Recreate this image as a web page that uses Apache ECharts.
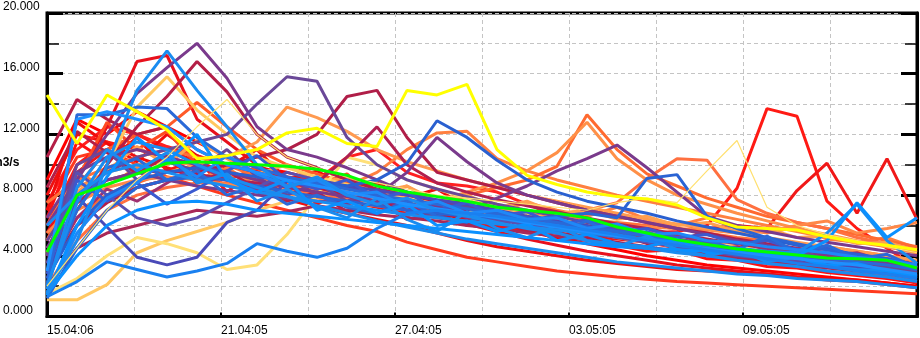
<!DOCTYPE html>
<html>
<head>
<meta charset="utf-8">
<script src="https://cdn.jsdelivr.net/npm/echarts@6/dist/echarts.min.js"></script>
<style>
  html, body { margin: 0; padding: 0; background: #fff; }
  #chart { width: 920px; height: 338px; }
</style>
</head>
<body>
<div id="chart"></div>
<script>
// x axis: days from start, ticks every 3 days, labels every 6
const tickLabels = ['15.04:06', '21.04:05', '27.04:05', '03.05:05', '09.05:05'];
const yTicks = [0, 4, 8, 12, 16, 20];
const unitLabel = 'm3/s';

// 30 forecast steps (k0..k29) spread over the whole axis
const steps = Array.from({length: 30}, (_, i) => i);

// ensemble members
const m01 = [5.5, 9.0, 12.5, 16.8, 17.2, 13.0, 11.5, 10.0, 9.0, 8.6, 8.2, 7.8, 7.0, 6.6, 6.1, 5.6, 5.1, 4.7, 4.3, 4.0, 3.7, 3.4, 3.2, 3.0, 2.8, 2.6, 2.4, 2.3, 2.1, 1.9];
const m02 = [1.5, 5.0, 10.0, 14.9, 17.5, 14.9, 12.5, 10.0, 8.5, 9.2, 8.0, 7.4, 7.8, 7.0, 6.6, 6.2, 5.8, 5.5, 5.0, 4.8, 4.5, 4.2, 4.0, 3.7, 3.5, 3.3, 3.0, 2.8, 2.6, 2.3];
const m03 = [6.0, 9.0, 12.0, 14.7, 16.4, 18.0, 15.7, 12.5, 11.0, 10.5, 9.8, 9.0, 8.2, 7.6, 7.2, 6.9, 6.5, 6.0, 5.7, 5.3, 5.0, 4.6, 4.4, 4.1, 3.8, 3.6, 3.4, 3.1, 2.9, 2.6];
const m04 = [4.0, 7.0, 10.0, 12.5, 14.5, 16.8, 14.8, 12.0, 10.5, 9.8, 9.0, 8.4, 8.0, 7.6, 7.2, 6.8, 6.4, 6.1, 5.7, 5.4, 5.0, 4.7, 4.4, 4.2, 4.0, 3.7, 3.5, 3.3, 3.1, 2.8];
const m05 = [3.0, 7.0, 10.0, 13.8, 15.8, 13.6, 12.0, 10.5, 9.8, 9.2, 8.7, 8.0, 7.6, 7.3, 7.0, 6.6, 6.3, 5.9, 5.6, 5.2, 4.9, 4.6, 4.3, 4.1, 3.9, 3.7, 3.4, 3.2, 3.0, 2.8];
const m06 = [10.5, 14.3, 13.0, 12.0, 12.5, 11.0, 10.0, 9.5, 9.0, 8.5, 8.0, 7.5, 7.2, 6.8, 6.5, 6.1, 5.8, 5.5, 5.2, 4.9, 4.6, 4.3, 4.1, 3.9, 3.7, 3.5, 3.3, 3.1, 2.9, 2.7];
const m07 = [5.0, 8.0, 9.5, 10.5, 11.0, 11.5, 12.0, 14.0, 15.8, 15.5, 11.8, 10.0, 9.0, 8.4, 7.9, 7.4, 7.0, 6.6, 6.2, 5.8, 5.5, 5.1, 4.8, 4.5, 4.2, 3.9, 3.7, 3.4, 3.2, 2.9];
const m08 = [3.0, 6.0, 7.5, 8.5, 9.0, 9.5, 10.0, 10.5, 11.0, 12.0, 14.5, 14.9, 11.8, 9.5, 9.0, 8.5, 8.0, 7.5, 7.0, 6.6, 6.2, 5.8, 5.5, 5.1, 4.8, 4.5, 4.2, 3.9, 3.6, 3.3];
const m09 = [2.5, 6.0, 8.0, 9.0, 9.5, 9.8, 9.5, 9.2, 9.0, 8.8, 8.6, 9.0, 10.1, 12.9, 11.8, 10.3, 9.0, 8.2, 7.6, 7.2, 6.8, 6.3, 5.9, 5.5, 5.1, 4.7, 4.4, 4.1, 3.8, 3.4];
const m10 = [4.5, 7.0, 8.0, 8.5, 9.0, 9.2, 9.0, 8.8, 8.5, 8.4, 8.6, 9.5, 11.0, 12.1, 12.2, 10.4, 9.6, 9.0, 8.5, 8.0, 7.6, 7.2, 6.8, 6.4, 6.0, 5.6, 5.2, 4.9, 4.6, 4.2];
const m11 = [3.5, 6.5, 8.0, 8.8, 9.5, 9.8, 9.6, 9.0, 8.7, 8.4, 8.1, 7.8, 7.6, 7.6, 8.0, 8.5, 9.0, 9.9, 13.3, 11.0, 9.4, 8.6, 7.8, 7.2, 6.6, 6.2, 5.8, 5.4, 5.0, 4.6];
const m12 = [5.0, 8.5, 9.5, 10.0, 10.2, 10.0, 9.4, 9.0, 8.6, 8.2, 8.0, 7.7, 7.4, 7.6, 8.2, 8.8, 9.6, 10.8, 12.8, 10.4, 9.0, 8.0, 7.4, 6.8, 6.3, 5.8, 5.4, 5.0, 4.6, 4.2];
const m13 = [6.5, 9.5, 10.5, 11.0, 10.5, 10.0, 9.5, 9.0, 8.5, 8.2, 7.9, 7.6, 7.4, 7.2, 7.0, 7.8, 8.6, 9.6, 10.4, 11.3, 9.8, 8.2, 6.6, 6.0, 5.6, 5.2, 4.9, 4.6, 4.3, 4.0];
const m14 = [2.0, 5.0, 7.0, 8.0, 8.5, 8.8, 8.8, 8.6, 8.3, 8.0, 7.8, 7.5, 7.2, 7.0, 6.8, 6.6, 6.5, 6.7, 7.0, 7.5, 9.1, 10.4, 10.3, 7.7, 6.8, 6.2, 5.8, 5.2, 4.8, 4.4];
const m15 = [2.0, 4.5, 7.0, 9.0, 10.5, 12.5, 14.3, 12.0, 10.5, 9.8, 9.2, 8.8, 8.4, 8.0, 7.8, 7.6, 7.4, 7.2, 7.0, 7.5, 7.8, 7.5, 9.6, 11.6, 7.2, 6.0, 5.4, 5.0, 4.6, 4.2];
const m16 = [1.2, 4.5, 7.0, 8.5, 9.0, 9.2, 9.0, 8.6, 8.2, 7.9, 7.6, 7.3, 7.0, 6.8, 6.6, 6.5, 6.4, 6.6, 6.8, 6.5, 9.1, 9.35, 6.6, 5.8, 5.2, 4.8, 4.4, 4.0, 3.7, 3.3];
const m17 = [1.5, 4.0, 6.0, 7.0, 7.5, 7.6, 7.4, 7.0, 6.8, 6.6, 6.4, 6.2, 6.0, 5.8, 5.6, 5.4, 5.2, 5.0, 4.8, 4.6, 4.5, 4.4, 4.3, 4.2, 4.1, 4.0, 5.0, 7.5, 5.2, 6.5];
const m18 = [1.3, 2.3, 3.6, 3.1, 2.6, 3.0, 3.5, 4.8, 4.3, 3.9, 4.5, 5.8, 6.8, 7.0, 6.8, 6.6, 6.3, 6.0, 5.7, 5.4, 5.0, 4.7, 4.4, 4.1, 3.8, 3.5, 3.3, 3.0, 2.8, 2.5];
const m19 = [1.1, 1.1, 2.1, 4.2, 5.0, 5.6, 6.2, 7.0, 7.6, 8.0, 8.2, 8.0, 7.8, 7.6, 7.3, 7.0, 6.7, 6.4, 6.1, 5.8, 5.5, 5.2, 4.9, 4.6, 4.3, 4.0, 3.8, 3.6, 3.4, 3.2];
const m20 = [1.5, 2.5, 4.0, 5.2, 4.8, 4.2, 3.1, 3.4, 5.4, 8.0, 10.5, 10.0, 9.0, 8.4, 7.8, 7.4, 7.0, 6.6, 6.2, 5.8, 5.5, 5.2, 4.9, 4.6, 4.3, 4.0, 3.8, 3.5, 3.3, 3.0];
const m21 = [2.5, 7.9, 5.9, 3.9, 3.4, 3.9, 6.2, 7.0, 8.9, 9.0, 8.6, 8.3, 8.0, 7.7, 7.4, 7.0, 6.6, 6.3, 6.0, 5.6, 5.3, 5.0, 4.7, 4.4, 4.1, 3.8, 3.5, 3.3, 3.0, 2.7];
const m22 = [7.0, 10.5, 11.0, 10.0, 9.2, 8.6, 8.0, 7.5, 7.0, 6.5, 6.0, 5.6, 4.9, 4.4, 3.9, 3.6, 3.3, 3.0, 2.8, 2.6, 2.45, 2.3, 2.2, 2.1, 2.0, 1.9, 1.8, 1.7, 1.6, 1.5];
const m23 = [8.0, 12.0, 11.5, 10.5, 9.8, 9.2, 8.7, 8.2, 7.7, 7.2, 6.8, 6.4, 6.0, 5.5, 5.0, 4.6, 4.3, 4.0, 3.7, 3.5, 3.3, 3.1, 3.0, 2.9, 2.8, 2.6, 2.5, 2.4, 2.2, 2.0];
const m24 = [2.0, 7.5, 10.5, 11.5, 11.0, 10.0, 9.2, 8.5, 7.9, 7.3, 6.8, 6.3, 5.9, 5.5, 5.1, 4.8, 4.5, 4.2, 3.9, 3.6, 3.4, 3.2, 3.0, 2.8, 2.7, 2.5, 2.4, 2.3, 2.1, 1.9];
const m25 = [9.0, 13.0, 12.0, 13.5, 12.5, 11.5, 10.5, 9.8, 9.5, 9.0, 8.5, 8.0, 7.3, 6.8, 6.4, 6.0, 5.6, 5.2, 4.8, 4.4, 4.0, 3.7, 3.4, 3.2, 3.0, 2.8, 2.6, 2.4, 2.2, 2.0];
const m26 = [6.0, 10.0, 11.5, 11.0, 10.5, 10.0, 9.5, 9.0, 8.6, 8.2, 7.9, 7.6, 7.3, 7.0, 6.7, 6.4, 6.2, 6.0, 5.8, 5.6, 5.5, 5.6, 6.0, 8.45, 13.7, 13.2, 7.6, 5.8, 4.5, 3.2];
const m27 = [5.0, 9.5, 11.0, 12.0, 11.0, 10.2, 9.5, 9.0, 8.5, 8.0, 7.6, 7.2, 6.8, 6.5, 6.2, 5.9, 5.7, 5.5, 5.3, 5.1, 4.9, 4.7, 5.8, 6.0, 5.8, 8.3, 10.1, 6.8, 10.4, 6.4];
const m28 = [3.5, 7.5, 9.0, 9.5, 9.6, 9.4, 9.0, 8.8, 8.6, 8.8, 10.5, 12.5, 10.0, 8.8, 8.2, 7.7, 7.3, 6.9, 6.5, 6.1, 5.8, 5.4, 5.1, 4.8, 4.5, 4.2, 3.9, 3.7, 3.4, 3.1];
const m29 = [7.5, 11.0, 12.5, 12.0, 11.2, 10.6, 10.0, 9.6, 9.2, 9.0, 10.5, 11.0, 9.5, 8.8, 8.6, 8.2, 7.4, 6.6, 6.0, 5.4, 4.9, 4.5, 4.1, 3.8, 3.5, 3.3, 3.0, 2.8, 2.6, 2.3];
const m30 = [4.5, 8.0, 9.0, 9.5, 9.0, 8.6, 8.3, 8.0, 7.8, 7.6, 7.5, 8.0, 9.5, 11.8, 10.2, 8.8, 8.0, 7.5, 7.0, 6.6, 6.2, 5.8, 5.4, 5.0, 4.7, 4.4, 4.1, 3.8, 3.5, 3.2];
const m31 = [3.0, 13.0, 13.5, 13.0, 12.5, 11.0, 10.0, 9.5, 9.0, 8.6, 8.2, 7.8, 7.4, 7.1, 6.8, 6.5, 6.2, 5.9, 5.6, 5.3, 5.0, 4.7, 4.5, 4.2, 4.0, 3.8, 3.6, 3.4, 3.1, 2.8];
const m32 = [2.0, 13.3, 13.3, 13.8, 13.7, 11.8, 10.5, 9.8, 9.2, 8.8, 8.4, 8.0, 7.7, 7.4, 7.1, 6.8, 6.5, 6.2, 5.9, 5.6, 5.3, 5.0, 4.7, 4.4, 4.2, 4.0, 3.8, 3.6, 3.4, 3.1];
const m33 = [3.0, 6.0, 8.0, 9.0, 9.5, 10.0, 10.5, 11.5, 13.8, 13.1, 12.2, 11.0, 10.2, 9.6, 9.0, 8.5, 8.0, 7.6, 7.2, 6.8, 6.4, 6.1, 5.8, 5.5, 5.2, 4.9, 4.6, 4.3, 4.0, 3.7];
const m34 = [4.0, 8.5, 11.0, 12.0, 12.5, 14.1, 12.5, 11.0, 10.0, 9.4, 8.8, 8.3, 7.9, 7.5, 7.2, 6.9, 6.6, 6.3, 6.0, 5.7, 5.4, 5.1, 4.8, 4.5, 4.2, 4.0, 3.7, 3.5, 3.2, 2.9];
const m35 = [3.5, 9.5, 8.0, 6.5, 6.0, 6.5, 7.5, 8.5, 9.5, 9.0, 8.5, 8.0, 7.5, 7.0, 6.7, 6.4, 6.0, 5.8, 5.5, 5.2, 4.9, 4.6, 4.3, 4.0, 3.8, 3.6, 3.4, 3.2, 2.9, 2.6];
const m36 = [2.0, 4.5, 5.5, 6.0, 6.5, 7.0, 6.8, 6.6, 6.9, 7.3, 7.0, 6.7, 6.5, 6.3, 6.0, 5.8, 5.5, 5.3, 5.0, 4.8, 4.5, 4.3, 4.0, 3.8, 3.6, 3.4, 3.2, 3.0, 2.8, 2.5];
const m37 = [7.5, 9.0, 9.8, 10.5, 11.0, 10.5, 10.0, 9.2, 8.8, 8.5, 8.2, 8.0, 7.8, 7.5, 7.2, 7.0, 6.8, 6.6, 6.4, 6.2, 6.0, 5.8, 5.5, 5.2, 5.0, 4.8, 4.6, 4.3, 4.0, 3.6];
const m38 = [6.0, 8.0, 9.5, 10.0, 9.5, 9.0, 8.6, 8.2, 7.9, 7.6, 7.3, 7.0, 6.7, 6.5, 6.3, 6.1, 5.9, 5.7, 5.5, 5.3, 5.1, 4.9, 4.7, 4.5, 4.3, 4.2, 5.5, 7.4, 5.0, 3.5];
const m39 = [5.5, 7.5, 8.5, 9.0, 9.2, 9.0, 8.7, 8.4, 8.1, 7.8, 7.5, 7.3, 7.0, 6.8, 6.6, 6.4, 6.3, 6.2, 6.1, 6.0, 5.9, 5.8, 5.7, 5.5, 5.6, 6.0, 6.3, 5.5, 5.8, 6.2];
const m40 = [6.5, 11.5, 10.2, 11.8, 9.6, 10.4, 8.2, 9.7, 8.8, 7.4, 8.3, 7.9, 6.6, 7.6, 7.1, 5.8, 6.0, 5.0, 5.3, 4.7, 4.3, 4.4, 3.8, 3.7, 3.3, 3.2, 2.9, 2.7, 2.5, 2.2];
const m41 = [5.0, 9.0, 12.8, 11.0, 12.2, 10.0, 9.0, 9.8, 8.0, 8.6, 9.4, 7.6, 8.2, 7.0, 6.6, 7.4, 6.2, 5.9, 6.5, 5.4, 5.0, 5.3, 4.6, 4.4, 4.5, 4.0, 3.7, 3.6, 3.3, 3.1];
const m42 = [1.8, 8.5, 11.0, 9.6, 10.8, 8.8, 9.4, 7.6, 8.4, 7.2, 6.5, 7.8, 6.4, 5.6, 6.9, 5.8, 5.2, 6.0, 5.0, 4.6, 5.3, 4.4, 4.0, 4.4, 3.6, 3.9, 3.3, 3.1, 3.0, 2.6];
const m43 = [1.4, 6.0, 9.2, 11.8, 10.2, 12.0, 9.0, 8.2, 9.0, 7.0, 7.6, 6.8, 7.4, 6.0, 6.3, 5.6, 6.1, 5.0, 5.4, 4.8, 4.6, 5.1, 4.2, 4.3, 3.8, 3.9, 3.4, 3.5, 3.0, 2.7];
const m44 = [4.0, 10.0, 11.0, 9.0, 10.2, 9.6, 11.0, 9.2, 8.0, 8.8, 7.6, 8.4, 7.0, 6.6, 7.3, 6.2, 6.6, 5.6, 5.9, 5.2, 5.5, 4.8, 4.9, 4.4, 4.1, 4.3, 3.8, 3.5, 3.4, 3.0];
const m45 = [8.5, 12.2, 10.8, 9.4, 10.6, 8.8, 9.6, 8.4, 7.6, 8.2, 6.9, 7.6, 6.4, 6.8, 6.0, 6.4, 5.6, 5.9, 5.1, 5.5, 4.8, 4.9, 4.4, 4.6, 4.0, 4.1, 3.7, 3.6, 3.3, 3.0];
const m46 = [2.2, 7.0, 9.8, 10.4, 9.0, 9.6, 8.0, 8.6, 7.4, 8.0, 7.2, 6.8, 7.6, 6.6, 6.2, 7.0, 6.0, 5.5, 6.3, 5.2, 5.6, 4.8, 5.0, 4.4, 5.3, 4.2, 4.7, 3.8, 4.1, 3.2];
const m47 = [6.0, 9.4, 8.6, 9.8, 10.6, 9.0, 9.8, 8.6, 9.2, 8.0, 8.4, 7.8, 8.6, 7.4, 7.9, 6.9, 7.5, 7.0, 6.6, 7.2, 6.4, 6.0, 6.5, 5.8, 5.5, 5.9, 5.1, 4.9, 5.2, 4.5];
const m48 = [7.0, 12.8, 11.4, 10.2, 12.0, 10.6, 9.8, 11.0, 9.0, 9.6, 8.4, 8.8, 7.8, 8.4, 7.2, 7.0, 6.2, 6.5, 5.6, 5.8, 5.0, 5.1, 4.6, 4.4, 4.1, 3.9, 3.5, 3.3, 3.0, 2.6];
const m49 = [1.6, 5.5, 7.8, 8.8, 10.4, 9.2, 10.6, 9.4, 8.6, 9.0, 8.0, 8.2, 7.2, 7.6, 6.8, 7.0, 6.4, 6.5, 5.8, 6.1, 5.4, 5.5, 5.0, 4.9, 4.6, 4.4, 4.2, 3.9, 3.7, 3.4];
const m50 = [3.0, 6.5, 8.4, 7.6, 8.8, 10.0, 9.0, 8.4, 9.2, 8.0, 7.4, 8.0, 7.0, 7.3, 6.5, 6.8, 6.0, 6.3, 5.6, 5.8, 5.2, 5.4, 4.8, 5.0, 4.4, 4.5, 4.0, 4.2, 3.6, 3.3];
const m51 = [4.2, 8.2, 9.6, 11.2, 10.0, 11.6, 10.4, 9.4, 10.0, 8.8, 9.2, 8.2, 8.6, 7.6, 8.0, 7.2, 7.6, 6.8, 7.0, 6.4, 6.6, 6.0, 6.2, 5.6, 5.8, 5.2, 5.3, 4.8, 4.9, 4.3];
const m52 = [2.8, 9.0, 7.6, 8.8, 7.4, 8.4, 9.6, 10.6, 9.0, 8.4, 9.0, 7.8, 8.2, 7.0, 7.5, 6.6, 6.9, 6.0, 6.4, 5.6, 5.8, 5.2, 5.4, 4.8, 5.0, 4.4, 4.5, 4.0, 3.8, 3.4];

// highlighted traces
const yellowTrace = [14.6, 11.4, 14.6, 13.5, 12.3, 10.4, 10.6, 11.0, 12.1, 12.4, 11.4, 11.2, 14.9, 14.6, 15.3, 11.0, 9.3, 8.7, 8.2, 7.9, 7.75, 7.35, 6.5, 5.9, 5.8, 5.7, 5.25, 4.9, 4.7, 4.4];
const greenTrace  = [4.25, 8.0, 8.7, 9.4, 10.1, 10.2, 10.1, 10.0, 9.9, 9.7, 9.3, 8.6, 8.2, 7.9, 7.6, 7.2, 7.0, 6.8, 6.5, 5.9, 5.5, 5.05, 4.75, 4.45, 4.25, 4.05, 3.85, 3.8, 3.7, 3.2];

// draw order: reds/oranges first, blues on top
const members = [
	{data: m22, color: '#ff3a1e'},
	{data: m23, color: '#ee1010'},
	{data: m25, color: '#ff0000'},
	{data: m26, color: '#ff1a14'},
	{data: m27, color: '#f01818'},
	{data: m29, color: '#ff2020'},
	{data: m40, color: '#ff1010'},
	{data: m48, color: '#f00c0c'},
	{data: m01, color: '#e8101c'},
	{data: m41, color: '#ff4a20'},
	{data: m34, color: '#ff5a28'},
	{data: m37, color: '#ff7038'},
	{data: m10, color: '#ff8040'},
	{data: m47, color: '#ff8040'},
	{data: m11, color: '#ff6a30'},
	{data: m12, color: '#ff9048'},
	{data: m14, color: '#ff7040'},
	{data: m39, color: '#ff8848'},
	{data: m33, color: '#ff9a50'},
	{data: m51, color: '#ffa050'},
	{data: m05, color: '#ffc860'},
	{data: m19, color: '#ffc864'},
	{data: m20, color: '#ffe078'},
	{data: m06, color: '#b41e46'},
	{data: m45, color: '#b41e46'},
	{data: m04, color: '#b41e46'},
	{data: m08, color: '#b01e48'},
	{data: m28, color: '#b02050'},
	{data: m36, color: '#a82858'},
	{data: m50, color: '#a03070'},
	{data: m03, color: '#7a3a8c'},
	{data: m07, color: '#6a4898'},
	{data: m44, color: '#6a4898'},
	{data: m13, color: '#7a3a8c'},
	{data: m30, color: '#7a3a8c'},
	{data: m35, color: '#5a50b0'},
	{data: m21, color: '#4a4ab8'},
	{data: m52, color: '#3a5ad0'},
	{data: m09, color: '#2a60d0'},
	{data: m16, color: '#2a64d4'},
	{data: m32, color: '#2a6ad8'},
	{data: m46, color: '#2a6ad8'},
	{data: m24, color: '#1a8cf0'},
	{data: m42, color: '#1a8cf0'},
	{data: m38, color: '#1a8cf0'},
	{data: m49, color: '#1e88f8'},
	{data: m17, color: '#0a90ff'},
	{data: m43, color: '#0a90ff'},
	{data: m31, color: '#1e90ff'},
	{data: m02, color: '#1a8cf0'},
	{data: m18, color: '#1a80f0'}
];

const labelFont = "'Liberation Sans', Arial, sans-serif";

function buildSeries() {
	let list = [];

	members.forEach((item) => {
		list.push({
			type: 'line',
			xAxisIndex: 1,
			data: item.data,
			symbol: 'none',
			silent: true,
			lineStyle: { color: item.color, width: 3 }
		});
	});

	// thin pale trace
	list.push({
		type: 'line', xAxisIndex: 1, data: m15, symbol: 'none', silent: true,
		lineStyle: { color: '#ffe070', width: 1.2 }
	});

	list.push({
		type: 'line', xAxisIndex: 1, data: yellowTrace, symbol: 'none', silent: true,
		lineStyle: { color: '#ffff00', width: 3 }
	});
	list.push({
		type: 'line', xAxisIndex: 1, data: greenTrace, symbol: 'none', silent: true,
		lineStyle: { color: '#00ff00', width: 3 }
	});

	return list;
}

const dash = { color: '#c4c4c4', type: [4, 3], width: 1 };

var myChart = echarts.init(document.getElementById('chart'), null, { renderer: 'canvas' });

var option = {
	animation: false,
	backgroundColor: '#ffffff',
	grid: {
		left: 46, right: 1, top: 13, bottom: 21.5,
		show: true, borderColor: '#000', borderWidth: 3, backgroundColor: 'transparent'
	},
	xAxis: [
		{
			type: 'value',
			min: 0, max: 30, interval: 6,
			axisLine: { show: true, lineStyle: { color: '#000', width: 3 } },
			axisTick: { show: true, inside: true, length: 4, lineStyle: { color: '#000', width: 2 } },
			minorTick: { show: false, splitNumber: 2 },
			splitLine: { show: true, lineStyle: dash },
			minorSplitLine: { show: true, lineStyle: dash },
			axisLabel: {
				show: true, align: 'left', margin: 8,
				color: '#000', fontSize: 12, fontFamily: labelFont,
				formatter: function (v) {
					const i = Math.round(v / 6);
					return tickLabels[i] || '';
				}
			}
		},
		{
			type: 'category',
			data: steps,
			boundaryGap: false,
			show: false
		}
	],
	yAxis: [
		{
			type: 'value',
			min: yTicks[0], max: yTicks[yTicks.length - 1], interval: 4,
			position: 'left',
			axisLine: { show: true, lineStyle: { color: '#000', width: 3 } },
			axisTick: { show: true, inside: true, length: 16, lineStyle: { color: '#000', width: 3 } },
			minorTick: { show: true, splitNumber: 2, length: 12, lineStyle: { color: '#000', width: 1.5 } },
			splitLine: { show: true, lineStyle: dash },
			minorSplitLine: { show: true, lineStyle: dash },
			axisLabel: {
				show: true, align: 'left', verticalAlign: 'bottom', margin: 44,
				color: '#000', fontSize: 12, fontFamily: labelFont,
				formatter: (v) => v.toFixed(3)
			}
		},
		{
			type: 'value',
			min: yTicks[0], max: yTicks[yTicks.length - 1], interval: 4,
			position: 'right',
			axisLine: { show: true, lineStyle: { color: '#000', width: 3 } },
			axisTick: { show: true, inside: true, length: 16, lineStyle: { color: '#000', width: 3 } },
			minorTick: { show: true, splitNumber: 2, length: 12, lineStyle: { color: '#000', width: 1.5 } },
			splitLine: { show: false },
			axisLabel: { show: false }
		}
	],
	graphic: [
		{
			type: 'text', left: -8, top: 157, silent: true,
			style: { text: unitLabel, fill: '#000', font: "bold 12px " + labelFont }
		}
	],
	series: buildSeries()
};

myChart.setOption(option);
</script>
</body>
</html>
